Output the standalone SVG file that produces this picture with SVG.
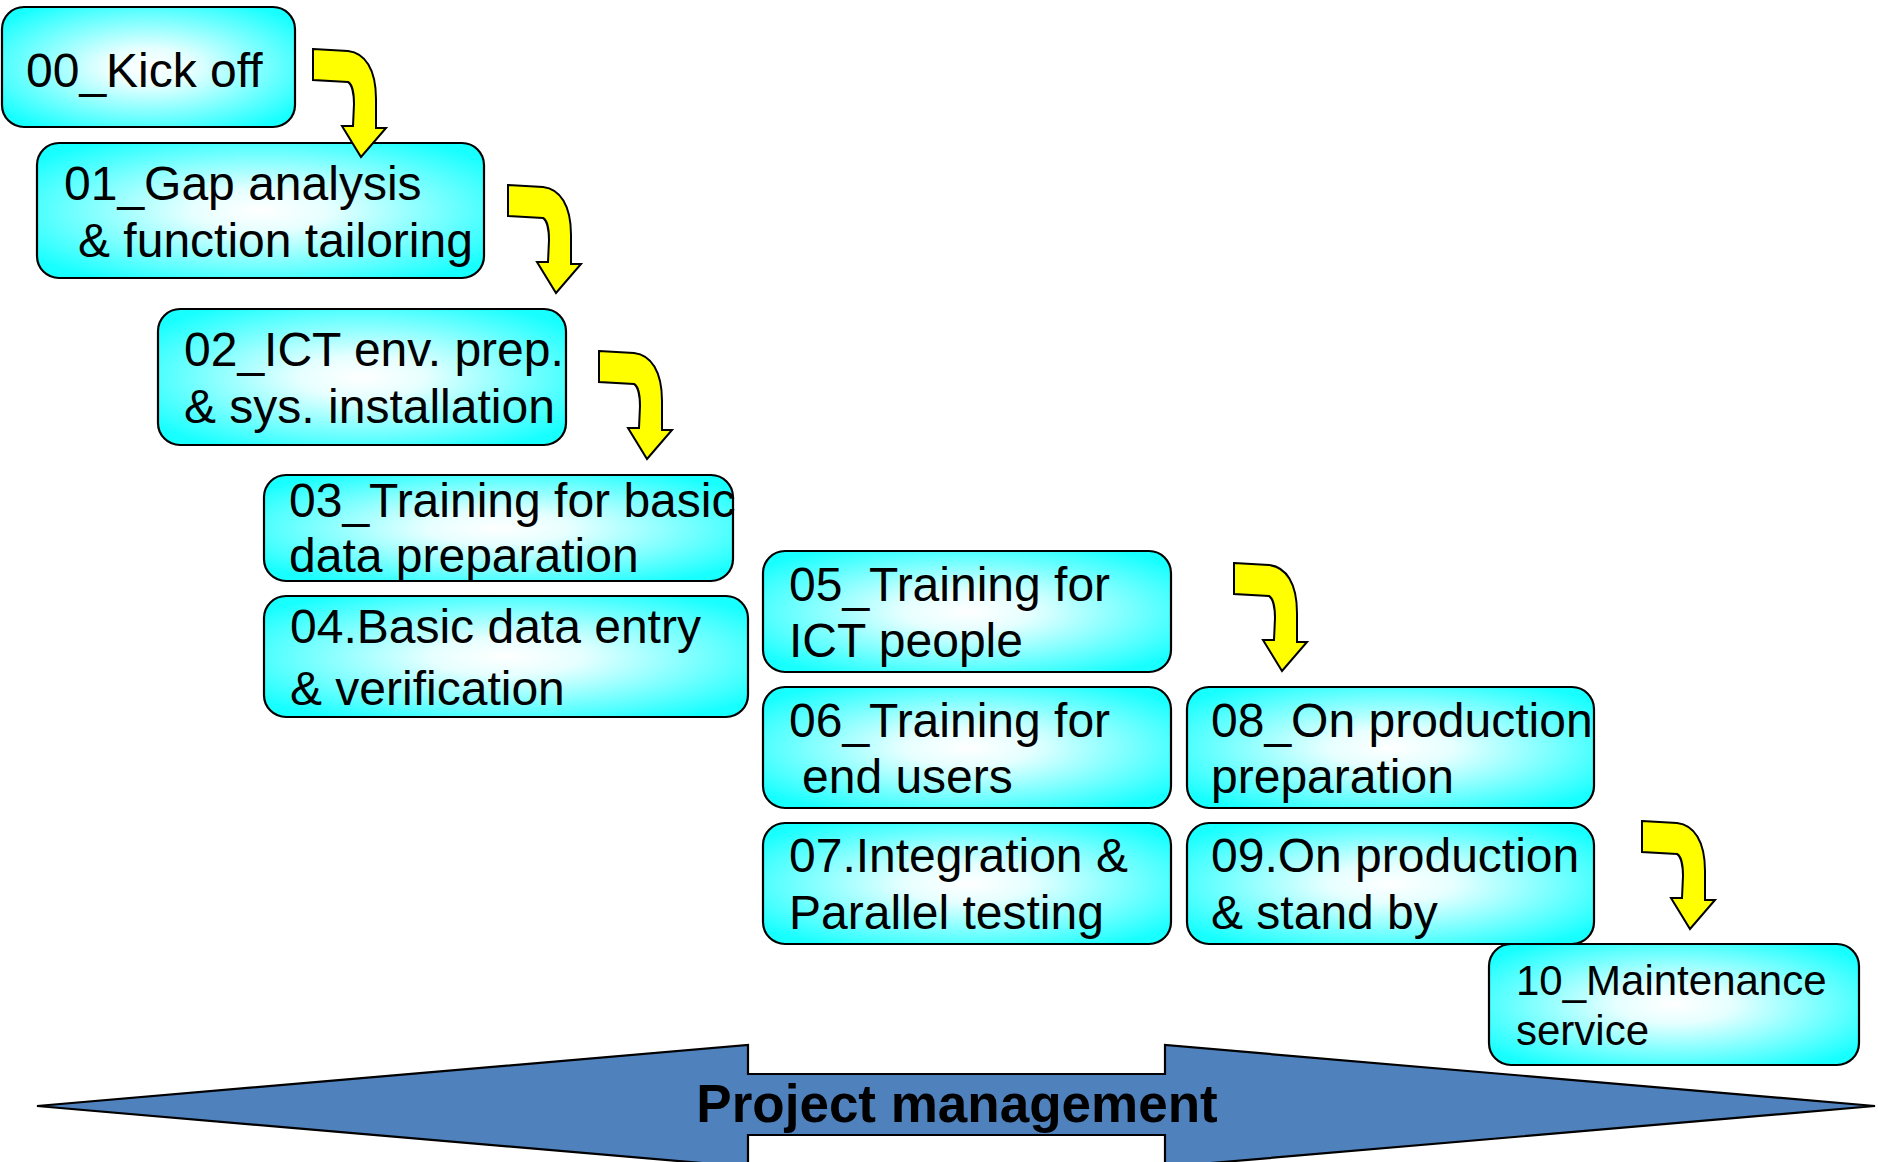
<svg xmlns="http://www.w3.org/2000/svg" xmlns:xlink="http://www.w3.org/1999/xlink" width="1878" height="1162" viewBox="0 0 1878 1162">
<defs>
<radialGradient id="glow" cx="50%" cy="50%" r="62%">
<stop offset="0" stop-color="#ffffff"/>
<stop offset="0.25" stop-color="#e6ffff"/>
<stop offset="1" stop-color="#18ffff"/>
</radialGradient>
<path id="bend" d="M0,0 L35,2 C52,4 63,20 63,50 L63,79 L73,79 L48,108 L29,77 L40,77 L41,55 C41,45 39,35 35,33 L0,31 Z"/>
</defs>
<style>
.box{fill:url(#glow);stroke:#000;stroke-width:2.2}
.t{font-family:"Liberation Sans",Arial,sans-serif;font-size:48px;fill:#000}
.s{font-size:42px}
.arr{fill:#ffff00;stroke:#000;stroke-width:2}
.pm{fill:#4f81bd;stroke:#000;stroke-width:2.2}
.pmt{font-family:"Liberation Sans",Arial,sans-serif;font-size:53px;font-weight:bold;fill:#000}
</style>
<g id="pm">
<polygon class="pm" points="37,1106 748,1045 748,1074 1165,1074 1165,1045 1875,1106 1165,1167 1165,1135 748,1135 748,1167"/>
<text class="pmt" x="957" y="1122" text-anchor="middle">Project management</text>
</g>
<g id="n00"><rect class="box" x="2" y="7" width="293" height="120" rx="22"/>
<text class="t" x="26" y="87">00_Kick off</text></g>
<g id="n01"><rect class="box" x="37" y="143" width="447" height="135" rx="22"/>
<text class="t" x="64" y="200">01_Gap analysis</text>
<text class="t" x="78" y="257">&amp; function tailoring</text></g>
<g id="n02"><rect class="box" x="158" y="309" width="408" height="136" rx="22"/>
<text class="t" x="184" y="366">02_ICT env. prep.</text>
<text class="t" x="184" y="423">&amp; sys. installation</text></g>
<g id="n03"><rect class="box" x="264" y="475" width="469" height="106" rx="22"/>
<text class="t" x="289" y="517">03_Training for basic</text>
<text class="t" x="289" y="572">data preparation</text></g>
<g id="n04"><rect class="box" x="264" y="596" width="484" height="121" rx="22"/>
<text class="t" x="290" y="643">04.Basic data entry</text>
<text class="t" x="290" y="705">&amp; verification</text></g>
<g id="n05"><rect class="box" x="763" y="551" width="408" height="121" rx="22"/>
<text class="t" x="789" y="601">05_Training for</text>
<text class="t" x="789" y="657">ICT people</text></g>
<g id="n06"><rect class="box" x="763" y="687" width="408" height="121" rx="22"/>
<text class="t" x="789" y="737">06_Training for</text>
<text class="t" x="802" y="793">end users</text></g>
<g id="n07"><rect class="box" x="763" y="823" width="408" height="121" rx="22"/>
<text class="t" x="789" y="872">07.Integration &amp;</text>
<text class="t" x="789" y="929">Parallel testing</text></g>
<g id="n08"><rect class="box" x="1187" y="687" width="407" height="121" rx="22"/>
<text class="t" x="1211" y="737">08_On production</text>
<text class="t" x="1211" y="793">preparation</text></g>
<g id="n09"><rect class="box" x="1187" y="823" width="407" height="121" rx="22"/>
<text class="t" x="1211" y="872">09.On production</text>
<text class="t" x="1211" y="929">&amp; stand by</text></g>
<g id="n10"><rect class="box" x="1489" y="944" width="370" height="121" rx="22"/>
<text class="t s" x="1516" y="995">10_Maintenance</text>
<text class="t s" x="1516" y="1045">service</text></g>
<g id="connectors">
<use xlink:href="#bend" href="#bend" class="arr" transform="translate(313,49)"/>
<use xlink:href="#bend" href="#bend" class="arr" transform="translate(508,185)"/>
<use xlink:href="#bend" href="#bend" class="arr" transform="translate(599,351)"/>
<use xlink:href="#bend" href="#bend" class="arr" transform="translate(1234,563)"/>
<use xlink:href="#bend" href="#bend" class="arr" transform="translate(1642,821)"/>
</g>
</svg>
